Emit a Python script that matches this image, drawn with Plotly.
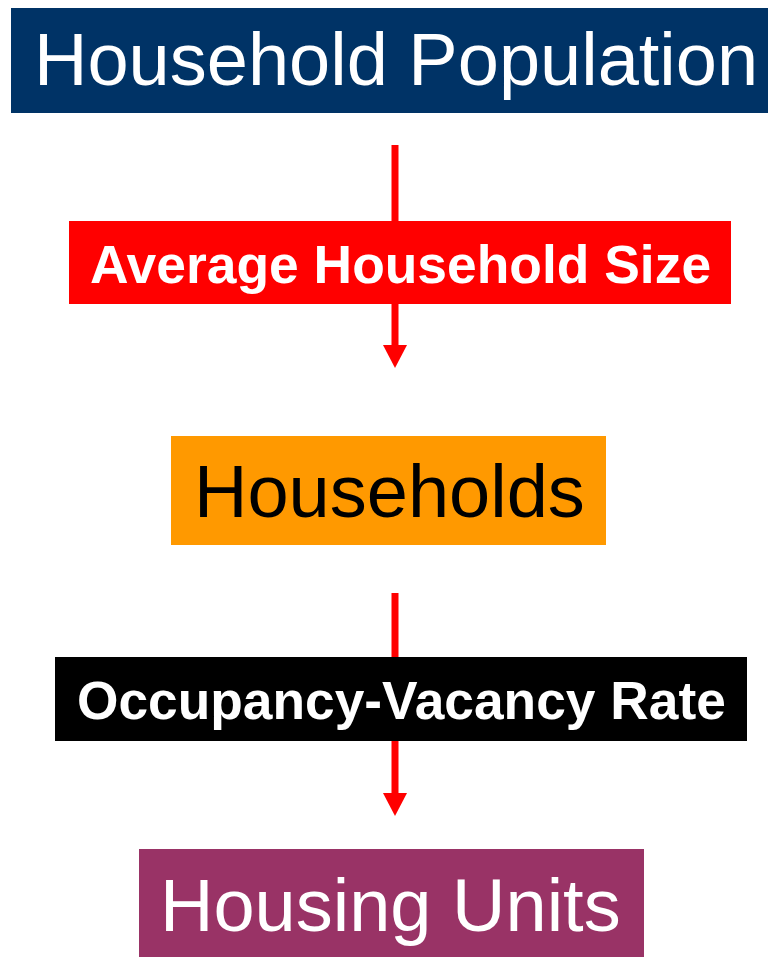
import plotly.graph_objects as go

# Diagram content
node_labels = ["Household Population", "Average Household Size", "Households",
               "Occupancy-Vacancy Rate", "Housing Units"]
node_fill = ["#003366", "#FF0000", "#FF9900", "#000000", "#993366"]
node_text_color = ["#FFFFFF", "#FFFFFF", "#000000", "#FFFFFF", "#FFFFFF"]
node_bold = [False, True, False, True, False]

# layout geometry (pixels, y downward)
box_x0 = [11, 69, 171, 55, 139]
box_x1 = [768, 731, 606, 747, 644]
box_y0 = [4, 221, 436, 657, 849]
box_y1 = [113, 304, 545, 741, 970]
text_x = [396, 400, 389, 401, 390]
text_y = [59.5, 264.7, 491.5, 700, 905]
text_size = [74, 53.4, 74, 53.3, 74]

arrow_x = [395, 395]
arrow_y0 = [145, 593]
arrow_tip = [368, 816]
head_len = 23
head_half = 12

W, H = 778, 957
OFF = 8  # page body margin
fig = go.Figure()
fig.add_trace(go.Scatter(x=[OFF, W + OFF], y=[OFF, H + OFF], mode="markers",
                         marker=dict(opacity=0), hoverinfo="skip", showlegend=False))

shapes = []
for ax, ay0, at in zip(arrow_x, arrow_y0, arrow_tip):
    shapes.append(dict(type="line", x0=ax, x1=ax, y0=ay0, y1=at - head_len + 1,
                       line=dict(color="#FF0000", width=7), layer="above"))
    shapes.append(dict(type="path",
                       path=f"M {ax-head_half},{at-head_len} L {ax+head_half},{at-head_len} L {ax},{at} Z",
                       fillcolor="#FF0000", line=dict(width=0), layer="above"))
for i in range(len(node_labels)):
    shapes.append(dict(type="rect", x0=box_x0[i], x1=box_x1[i], y0=box_y0[i], y1=box_y1[i],
                       fillcolor=node_fill[i], line=dict(width=0), layer="above"))

annotations = []
for i, lab in enumerate(node_labels):
    txt = f"<b>{lab}</b>" if node_bold[i] else lab
    annotations.append(dict(x=text_x[i], y=text_y[i], text=txt, showarrow=False,
                            xanchor="center", yanchor="middle",
                            font=dict(family="Liberation Sans, Arial, sans-serif",
                                      size=text_size[i], color=node_text_color[i])))

fig.update_layout(
    width=W, height=H, margin=dict(l=0, r=0, t=0, b=0),
    paper_bgcolor="white", plot_bgcolor="white",
    xaxis=dict(range=[OFF, W + OFF], visible=False, fixedrange=True),
    yaxis=dict(range=[H + OFF, OFF], visible=False, fixedrange=True),
    shapes=shapes, annotations=annotations, showlegend=False,
)
fig.write_html("out.html", config={"displayModeBar": False})
